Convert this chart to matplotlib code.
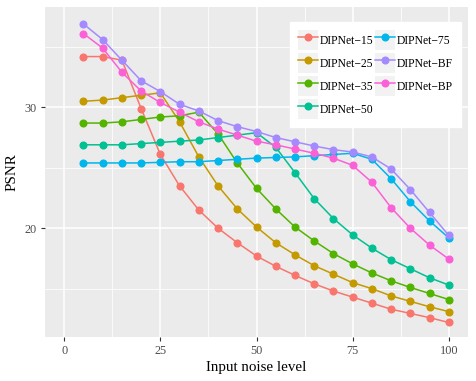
import matplotlib
matplotlib.use('Agg')
import matplotlib.pyplot as plt
from matplotlib.legend_handler import HandlerLine2D
from matplotlib.patches import Rectangle

noise = [5, 10, 15, 20, 25, 30, 35, 40, 45, 50, 55, 60, 65, 70, 75, 80, 85, 90, 95, 100]

net15 = [34.2, 34.2, 33.9, 29.9, 26.1, 23.5, 21.5, 20.0, 18.8, 17.7, 16.85, 16.1, 15.4, 14.8, 14.3, 13.8, 13.3, 12.95, 12.6, 12.2]
net25 = [30.5, 30.6, 30.8, 31.0, 31.2, 28.8, 25.9, 23.5, 21.6, 20.1, 18.8, 17.8, 16.9, 16.2, 15.5, 15.0, 14.4, 13.95, 13.5, 13.1]
net35 = [28.7, 28.7, 28.8, 29.0, 29.2, 29.3, 29.6, 27.8, 25.4, 23.3, 21.6, 20.1, 18.95, 17.9, 17.05, 16.3, 15.65, 15.1, 14.6, 14.1]
net50 = [26.9, 26.9, 26.9, 27.0, 27.1, 27.2, 27.3, 27.5, 27.7, 27.9, 26.7, 24.6, 22.45, 20.8, 19.45, 18.35, 17.4, 16.65, 15.9, 15.3]
net75 = [25.4, 25.4, 25.4, 25.4, 25.45, 25.5, 25.5, 25.6, 25.7, 25.8, 25.85, 25.9, 26.0, 26.1, 26.2, 25.7, 24.1, 22.2, 20.6, 19.2]
net_bf = [36.9, 35.6, 33.9, 32.2, 31.3, 30.25, 29.7, 28.9, 28.4, 28.0, 27.5, 27.15, 26.8, 26.5, 26.3, 25.9, 24.9, 23.2, 21.3, 19.4]
net_bp = [36.1, 34.9, 32.9, 31.35, 30.4, 29.6, 28.8, 28.2, 27.7, 27.2, 26.9, 26.55, 26.2, 25.8, 25.2, 23.8, 21.7, 20.0, 18.6, 17.45]

labels = ['DIPNet\u221215', 'DIPNet\u221225', 'DIPNet\u221235', 'DIPNet\u221250',
          'DIPNet\u221275', 'DIPNet\u2212BF', 'DIPNet\u2212BP']
series = [net15, net25, net35, net50, net75, net_bf, net_bp]
colors = ['#F8766D', '#C49A00', '#53B400', '#00C094', '#00B6EB', '#A58AFF', '#FB61D7']

plt.rcParams['font.family'] = ['Liberation Serif', 'DejaVu Serif']


class KeyHandler(HandlerLine2D):
    # grey key background like ggplot
    def create_artists(self, legend, orig_handle, xdescent, ydescent, width, height, fontsize, trans):
        arts = super().create_artists(legend, orig_handle, xdescent, ydescent, width, height, fontsize, trans)
        bg = Rectangle((-xdescent, -ydescent), width, height, facecolor='#F2F2F2',
                       edgecolor='none', transform=trans)
        return [bg] + list(arts)


fig = plt.figure(figsize=(4.76, 3.81), dpi=100)
ax = fig.add_axes([45 / 476, 1 - 337 / 381, 423 / 476, 330 / 381])
ax.set_facecolor('#EBEBEB')

handles = []
for vals, lab, col in zip(series, labels, colors):
    h, = ax.plot(noise, vals, color=col, lw=1.1, marker='o', markersize=4.8, label=lab, zorder=3)
    handles.append(h)

ax.set_xlim(-5, 105)
ax.set_ylim(11.0, 38.3)
ax.set_xticks([0, 25, 50, 75, 100])
ax.set_yticks([20, 30])
ax.set_xticks([12.5, 37.5, 62.5, 87.5], minor=True)
ax.set_yticks([15, 25, 35], minor=True)
ax.grid(which='major', color='white', lw=1.1)
ax.grid(which='minor', color='white', lw=0.55)
ax.set_axisbelow(True)
for s in ax.spines.values():
    s.set_visible(False)
ax.tick_params(which='major', length=3, width=0.8, color='#333333', labelcolor='#4D4D4D',
               labelsize=8.8, pad=3)
ax.tick_params(which='minor', length=0)

ax.set_xlabel('Input noise level', fontsize=10.8, labelpad=3)
ax.set_ylabel('PSNR', fontsize=10.8, labelpad=4)

leg = ax.legend(handles=handles, ncol=2, loc='upper left',
                bbox_to_anchor=(290 / 476, 1 - 22 / 381), bbox_transform=fig.transFigure,
                frameon=True, fancybox=False, fontsize=8.4, handlelength=1.71,
                handleheight=2.26, handletextpad=0.17, columnspacing=0.1,
                labelspacing=0.26, borderpad=0.69, borderaxespad=0,
                handler_map={h: KeyHandler() for h in handles})
leg.get_frame().set_edgecolor('white')
leg.get_frame().set_facecolor('white')
leg.get_frame().set_alpha(1)

fig.savefig('out.png', dpi=100)
